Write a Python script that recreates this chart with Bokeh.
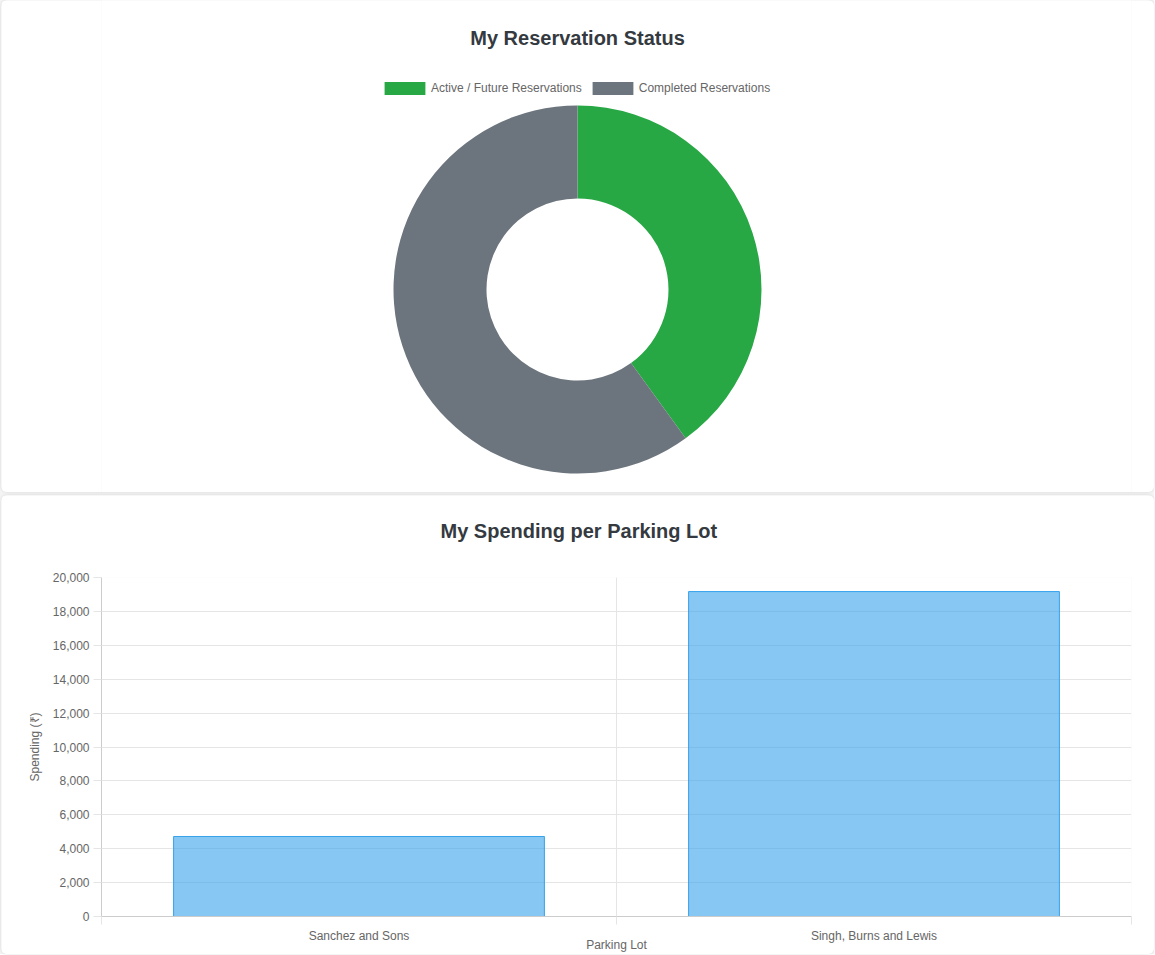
import math
from bokeh.plotting import figure
from bokeh.models import (ColumnDataSource, Range1d, FixedTicker, NumeralTickFormatter,
                          Label, Legend, LegendItem, Title)
from bokeh.layouts import column
from bokeh.embed import file_html
from bokeh.resources import INLINE

# ---------------- data ----------------
status_labels = ["Active / Future Reservations", "Completed Reservations"]
status_counts = [2, 3]
status_colors = ["#28a745", "#6c757d"]

lots = ["Sanchez and Sons", "Singh, Burns and Lewis"]
spending = [4720, 19170]
y_ticks = [0, 2000, 4000, 6000, 8000, 10000, 12000, 14000, 16000, 18000, 20000]

FONT = "Liberation Sans"
TITLE_COLOR = "#343a40"
TEXT_COLOR = "#666666"
GRID_COLOR = "#e5e5e5"
CARD_STYLE = {"border-radius": "6px", "overflow": "hidden",
              "box-shadow": "0 0 3px rgba(0,0,0,0.12)"}

# shared frame geometry (column aligns the plot frames)
BL, BR = 100, 23

# ---------------- donut card ----------------
W1, H1 = 1153, 492
p1 = figure(width=W1, height=H1, output_backend="svg", toolbar_location=None,
            x_range=Range1d(BL, W1 - BR), y_range=Range1d(0, H1),
            min_border_left=BL, min_border_right=BR, min_border_top=0, min_border_bottom=0,
            outline_line_color=None, styles=CARD_STYLE)
p1.axis.visible = False
p1.grid.visible = False
p1.background_fill_color = "white"
p1.border_fill_color = "white"

total = sum(status_counts)
starts, ends = [], []
a = math.pi / 2
for v in status_counts:
    starts.append(a)
    a -= 2 * math.pi * v / total
    ends.append(a)
src1 = ColumnDataSource(dict(label=status_labels, start=starts, end=ends, color=status_colors))
cx, cy = 576, H1 - 289
wedges = p1.annular_wedge(x=cx, y=cy, inner_radius=91, outer_radius=184,
                          start_angle="start", end_angle="end", direction="clock",
                          fill_color="color", line_color=None, source=src1)

p1.add_layout(Label(x=576, y=H1 - 37, text="My Reservation Status",
                    text_align="center", text_baseline="middle",
                    text_font=FONT, text_font_size="20px", text_font_style="bold",
                    text_color=TITLE_COLOR))

legend = Legend(items=[LegendItem(label=status_labels[i], renderers=[wedges], index=i)
                       for i in range(len(status_labels))],
                orientation="horizontal", location=(278, 396),
                margin=0, padding=0, spacing=5, label_standoff=1,
                glyph_width=51, glyph_height=16,
                label_text_font=FONT, label_text_font_size="12px",
                label_text_color=TEXT_COLOR, label_height=16,
                border_line_color=None, background_fill_alpha=0)
p1.add_layout(legend)

# ---------------- bar card ----------------
W2, H2 = 1153, 459
p2 = figure(width=W2, height=H2, output_backend="svg", toolbar_location=None,
            title=None,
            x_range=Range1d(0, len(lots)), y_range=Range1d(0, 20000),
            min_border_left=BL, min_border_right=BR, min_border_top=82,
            min_border_bottom=38, outline_line_color=None, styles=CARD_STYLE)
p2.background_fill_color = "white"
p2.border_fill_color = "white"

src2 = ColumnDataSource(dict(x=[i + 0.5 for i in range(len(lots))], top=spending))
p2.vbar(x="x", top="top", width=0.72, bottom=0, source=src2,
        fill_color="#36a2eb", fill_alpha=0.6, line_color="#36a2eb", line_width=1)

# spacer title (nearest the frame) then the real title above it
p2.add_layout(Title(text=" ", text_font_size="1px", standoff=33), "above")
p2.add_layout(Title(text="My Spending per Parking Lot", align="left", offset=339,
                    text_font=FONT, text_font_size="20px", text_font_style="bold",
                    text_color=TITLE_COLOR, standoff=0), "above")

# x axis
xa = p2.xaxis[0]
xa.ticker = FixedTicker(ticks=[i + 0.5 for i in range(len(lots))],
                        minor_ticks=list(range(len(lots) + 1)))
xa.major_label_overrides = {i + 0.5: name for i, name in enumerate(lots)}
xa.major_tick_out = 0
xa.major_tick_in = 0
xa.minor_tick_out = 8
xa.minor_tick_in = 0
xa.minor_tick_line_color = GRID_COLOR
xa.axis_line_color = "#cccccc"
xa.major_label_text_font = FONT
xa.major_label_text_font_size = "12px"
xa.major_label_text_color = TEXT_COLOR
xa.major_label_standoff = 4
xa.axis_label = "Parking Lot"
xa.axis_label_text_font = FONT
xa.axis_label_text_font_size = "12px"
xa.axis_label_text_font_style = "normal"
xa.axis_label_text_color = TEXT_COLOR
xa.axis_label_standoff = -8

# y axis
ya = p2.yaxis[0]
ya.ticker = FixedTicker(ticks=y_ticks)
ya.formatter = NumeralTickFormatter(format="0,0")
ya.major_tick_out = 8
ya.major_tick_in = 0
ya.major_tick_line_color = GRID_COLOR
ya.minor_tick_line_color = None
ya.axis_line_color = "#cccccc"
ya.major_label_text_font = FONT
ya.major_label_text_font_size = "12px"
ya.major_label_text_color = TEXT_COLOR
ya.major_label_standoff = 4
ya.axis_label = "Spending (₹)"
ya.axis_label_text_font = FONT
ya.axis_label_text_font_size = "12px"
ya.axis_label_text_font_style = "normal"
ya.axis_label_text_color = TEXT_COLOR
ya.axis_label_standoff = 8

p2.xgrid.ticker = FixedTicker(ticks=list(range(len(lots) + 1)))
p2.xgrid.grid_line_color = GRID_COLOR
p2.ygrid.ticker = FixedTicker(ticks=y_ticks)
p2.ygrid.grid_line_color = GRID_COLOR

layout = column(p1, p2, spacing=3,
                styles={"background-color": "#f4f4f4", "padding-left": "1px"})

with open("out.html", "w") as f:
    f.write(file_html(layout, INLINE))
